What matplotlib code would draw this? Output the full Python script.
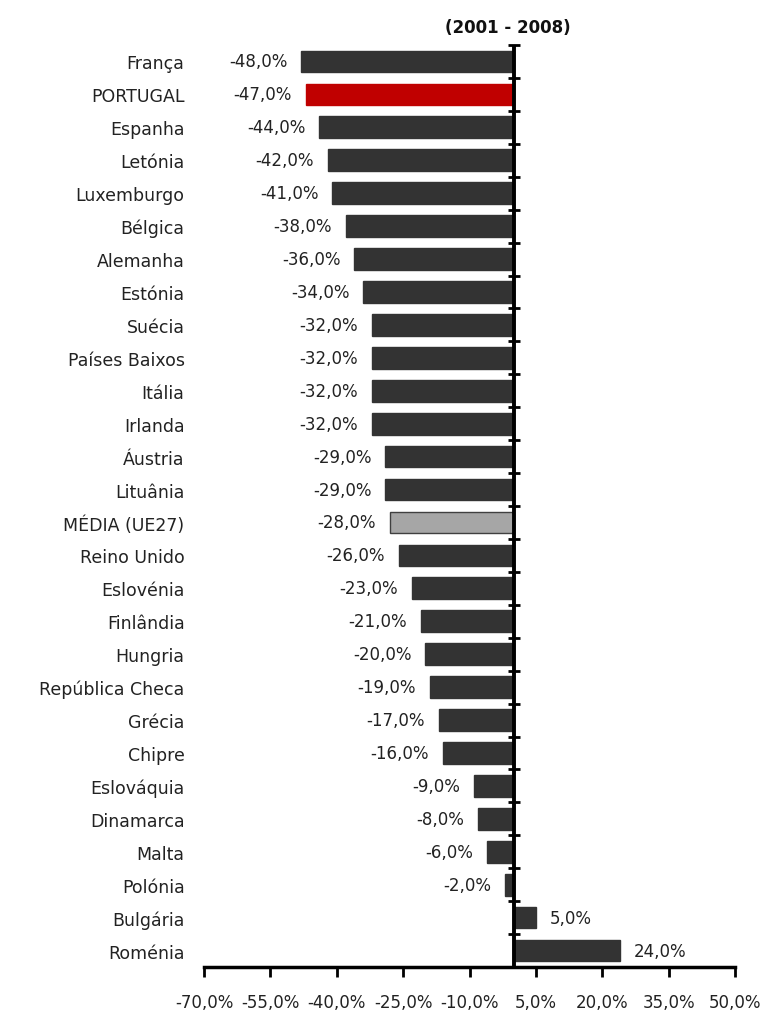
import numpy as np
import matplotlib
matplotlib.use('Agg')
import matplotlib.pyplot as plt

plt.rcParams['font.family'] = ['DejaVu Sans']

countries = ['França', 'PORTUGAL', 'Espanha', 'Letónia', 'Luxemburgo', 'Bélgica',
             'Alemanha', 'Estónia', 'Suécia', 'Países Baixos', 'Itália', 'Irlanda',
             'Áustria', 'Lituânia', 'MÉDIA (UE27)', 'Reino Unido', 'Eslovénia',
             'Finlândia', 'Hungria', 'República Checa', 'Grécia', 'Chipre',
             'Eslováquia', 'Dinamarca', 'Malta', 'Polónia', 'Bulgária', 'Roménia']
values = [-48, -47, -44, -42, -41, -38, -36, -34, -32, -32, -32, -32, -29, -29,
          -28, -26, -23, -21, -20, -19, -17, -16, -9, -8, -6, -2, 5, 24]
xticks = [-70, -55, -40, -25, -10, 5, 20, 35, 50]
title = '(2001 - 2008)'

fig = plt.figure(figsize=(7.66, 10.12), dpi=100)
ax = fig.add_axes([204/766, 1 - 968/1012, 531/766, 922/1012])

colors = []
edges = []
for c in countries:
    if c == 'PORTUGAL':
        colors.append('#C00000')
        edges.append('#C00000')
    elif c.startswith('MÉDIA'):
        colors.append('#A6A6A6')
        edges.append('#404040')
    else:
        colors.append('#333333')
        edges.append('#333333')

y = np.arange(len(countries))
ax.barh(y, values, height=0.66, color=colors, edgecolor=edges, linewidth=1.0, zorder=2)

for yi, v in zip(y, values):
    txt = f'{v:.1f}%'.replace('.', ',')
    if v < 0:
        ax.annotate(txt, (v, yi), xytext=(-10, 0), textcoords='offset points',
                    ha='right', va='center', fontsize=12, color='#222222')
    else:
        ax.annotate(txt, (v, yi), xytext=(10, 0), textcoords='offset points',
                    ha='left', va='center', fontsize=12, color='#222222')

ax.set_xlim(-70, 50)
ax.set_ylim(len(countries) - 0.5, -0.5)
ax.set_xticks(xticks)
ax.set_xticklabels([f'{t:.1f}%'.replace('.', ',') for t in xticks], fontsize=12, color='#222222')
ax.tick_params(axis='x', direction='out', length=7, width=2, pad=12)

ax.set_yticks(y)
ax.set_yticklabels(countries, fontsize=12.5, color='#222222')
ax.tick_params(axis='y', length=0, pad=14)

for s in ['top', 'right', 'left']:
    ax.spines[s].set_visible(False)
ax.spines['bottom'].set_linewidth(2.5)

# vertical axis at zero with tick marks between categories
ax.axvline(0, color='black', lw=2.8, zorder=3)
sec = ax.secondary_yaxis(70 / 120)
sec.spines['left'].set_visible(False)
sec.set_yticks(np.arange(-0.5, len(countries) + 0.5, 1))
sec.set_yticklabels([])
sec.tick_params(axis='y', direction='inout', length=9, width=2, color='black')

fig.text(508/766, 1 - 28/1012, title, ha='center', va='center', fontsize=12,
         fontweight='bold', color='#111111')

fig.savefig('out.png', dpi=100)
